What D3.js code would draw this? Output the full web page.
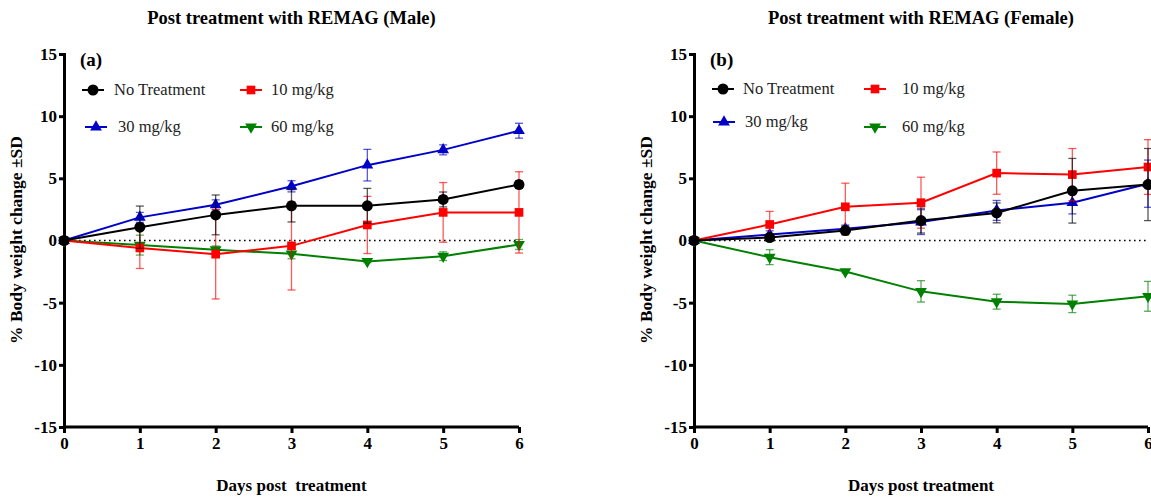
<!DOCTYPE html>
<html>
<head>
<meta charset="utf-8">
<script src="https://cdnjs.cloudflare.com/ajax/libs/d3/7.8.5/d3.min.js"></script>
<style>
  body { margin: 0; background: #fff; }
  svg text { font-family: "Liberation Serif", "Times New Roman", Times, "DejaVu Serif", serif !important; }
</style>
</head>
<body>
<div id="chart"></div>
<script>
// Data: % body weight change (mean) and SD per day
var days = [0, 1, 2, 3, 4, 5, 6];
var seriesNames = ["No Treatment", "10 mg/kg", "30 mg/kg", "60 mg/kg"];
var yTicks = [-15, -10, -5, 0, 5, 10, 15];

// Male
var maleNone = [0, 1.07, 2.06, 2.79, 2.79, 3.3, 4.5];
var maleNoneSD = [0, 1.7, 1.6, 1.3, 1.4, 0.6, 0.3];
var male10 = [0, -0.6, -1.1, -0.43, 1.25, 2.26, 2.26];
var male10SD = [0, 1.65, 3.6, 3.55, 2.3, 2.4, 3.27];
var male30 = [0, 1.86, 2.87, 4.36, 6.06, 7.29, 8.83];
var male30SD = [0, 0.4, 0.4, 0.45, 1.27, 0.4, 0.6];
var male60 = [0, -0.37, -0.74, -1.07, -1.68, -1.26, -0.32];
var male60SD = [0, 0.8, 0.3, 0.4, 0.1, 0.35, 0.4];

// Female
var femNone = [0, 0.24, 0.8, 1.6, 2.22, 4.0, 4.5];
var femNoneSD = [0, 0.3, 0.35, 1.0, 0.8, 2.6, 2.9];
var fem10 = [0, 1.29, 2.71, 3.04, 5.42, 5.3, 5.91];
var fem10SD = [0, 1.05, 1.9, 2.05, 1.7, 2.1, 2.2];
var fem30 = [0, 0.48, 0.94, 1.48, 2.42, 3.04, 4.57];
var fem30SD = [0, 0.3, 0.3, 1.0, 0.8, 0.9, 1.9];
var fem60 = [0, -1.34, -2.5, -4.09, -4.92, -5.1, -4.49];
var fem60SD = [0, 0.6, 0.1, 0.86, 0.6, 0.7, 1.2];

var colors = ["#000000", "#ff0000", "#0000c8", "#008000"];
var symbols = [d3.symbolCircle, d3.symbolSquare, d3.symbolTriangle, "down"];

var W = 1151, H = 497;
var svg = d3.select("#chart").append("svg")
  .attr("width", W).attr("height", H);

var panels = [
  { left: 64, right: 519, title: "Post treatment with REMAG (Male)", tag: "(a)",
    xlabel: "Days post \u00a0treatment",
    means: [maleNone, male10, male30, male60], sds: [maleNoneSD, male10SD, male30SD, male60SD],
    legend: [[82, 90, 114], [240, 90, 271], [85, 127, 118], [240, 127, 271]] },
  { left: 694, right: 1148, title: "Post treatment with REMAG (Female)", tag: "(b)",
    xlabel: "Days post treatment",
    means: [femNone, fem10, fem30, fem60], sds: [femNoneSD, fem10SD, fem30SD, fem60SD],
    legend: [[712, 89, 743], [864, 89, 902], [713, 122, 745], [864, 127, 902]] }
];

function marker(sel, i, cx, cy) {
  var g;
  if (symbols[i] === "down") {
    g = sel.append("path")
      .attr("d", d3.symbol().type(d3.symbolTriangle).size(60)())
      .attr("transform", "translate(" + cx + "," + cy + ") rotate(180)");
  } else {
    var size = i === 0 ? 95 : (i === 1 ? 75 : 60);
    g = sel.append("path")
      .attr("d", d3.symbol().type(symbols[i]).size(size)())
      .attr("transform", "translate(" + cx + "," + cy + ")");
  }
  g.attr("fill", colors[i]);
  return g;
}

panels.forEach(function(p) {
  var x = d3.scaleLinear().domain([0, 6]).range([p.left, p.right]);
  var y = d3.scaleLinear().domain([-15, 15]).range([427, 54]);
  var cx = (p.left + p.right) / 2;

  svg.append("text")
    .attr("x", cx).attr("y", 24)
    .attr("text-anchor", "middle")
    .style("font-size", "18.5px").style("font-weight", "bold")
    .text(p.title);

  // y axis
  var yAxis = d3.axisLeft(y).tickValues(yTicks).tickSize(5).tickPadding(2)
    .tickFormat(function(d) { return String(d); });
  var gy = svg.append("g").attr("transform", "translate(" + p.left + ",0)").call(yAxis);
  gy.select(".domain").attr("stroke-width", 3);
  gy.selectAll(".tick line").attr("stroke-width", 3);
  gy.selectAll(".tick text").attr("fill", "#000")
    .style("font-size", "17px").style("font-weight", "bold");

  // x axis
  var xAxis = d3.axisBottom(x).tickValues(days).tickSize(6).tickPadding(4)
    .tickFormat(function(d) { return String(d); });
  var gx = svg.append("g").attr("transform", "translate(0,427)").call(xAxis);
  gx.select(".domain").attr("stroke-width", 3).attr("d", "M" + p.left + ",0H" + p.right);
  gx.selectAll(".tick line").attr("stroke-width", 3);
  gx.selectAll(".tick text").attr("fill", "#000")
    .style("font-size", "17px").style("font-weight", "bold");

  // axis titles
  svg.append("text")
    .attr("x", cx).attr("y", 491)
    .attr("text-anchor", "middle")
    .style("font-size", "17px").style("font-weight", "bold")
    .text(p.xlabel);
  svg.append("text")
    .attr("transform", "translate(" + (p.left - 42) + ",240) rotate(-90)")
    .attr("text-anchor", "middle")
    .style("font-size", "17.5px").style("font-weight", "bold")
    .text("% Body weight change \u00b1SD");

  svg.append("text")
    .attr("x", p.left + 16).attr("y", 66)
    .style("font-size", "19px").style("font-weight", "bold")
    .text(p.tag);

  // zero line
  svg.append("line")
    .attr("x1", x(0)).attr("x2", x(6))
    .attr("y1", y(0)).attr("y2", y(0))
    .attr("stroke", "#000").attr("stroke-width", 1.6)
    .attr("stroke-dasharray", "1.6,3.4");

  // series: draw green, blue, red, black so black sits on top
  [3, 2, 1, 0].forEach(function(i) {
    var m = p.means[i], s = p.sds[i];
    var pts = days.map(function(d, k) { return { d: d, m: m[k], s: s[k] }; });
    var eb = svg.append("g").attr("stroke", colors[i]).attr("stroke-opacity", 0.65)
      .attr("stroke-width", 1.3);
    pts.forEach(function(pt) {
      if (pt.s <= 0) return;
      var xx = x(pt.d), y1 = y(pt.m + pt.s), y2 = y(pt.m - pt.s);
      eb.append("line").attr("x1", xx).attr("x2", xx).attr("y1", y1).attr("y2", y2);
      eb.append("line").attr("x1", xx - 4).attr("x2", xx + 4).attr("y1", y1).attr("y2", y1);
      eb.append("line").attr("x1", xx - 4).attr("x2", xx + 4).attr("y1", y2).attr("y2", y2);
    });
    svg.append("path").datum(pts)
      .attr("fill", "none").attr("stroke", colors[i]).attr("stroke-width", 2)
      .attr("d", d3.line()
        .x(function(d) { return x(d.d); })
        .y(function(d) { return y(d.m); }));
    var mg = svg.append("g");
    pts.forEach(function(pt) { marker(mg, i, x(pt.d), y(pt.m)); });
  });

  // legend
  p.legend.forEach(function(l, i) {
    var lg = svg.append("g");
    lg.append("line").attr("x1", l[0]).attr("x2", l[0] + 22)
      .attr("y1", l[1]).attr("y2", l[1])
      .attr("stroke", colors[i]).attr("stroke-width", 2);
    marker(lg, i, l[0] + 11, l[1]);
    lg.append("text").attr("x", l[2]).attr("y", l[1] + 5)
      .style("font-size", "16.5px").attr("fill", "#222")
      .text(seriesNames[i]);
  });
});
</script>
</body>
</html>
